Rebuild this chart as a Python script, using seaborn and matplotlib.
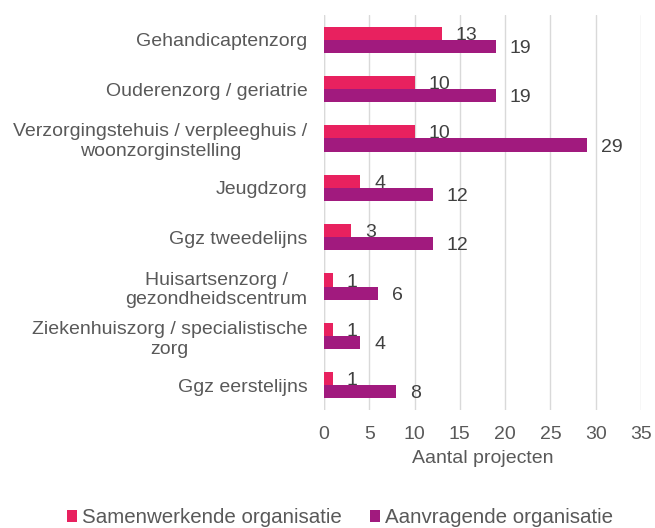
import matplotlib
matplotlib.use("Agg")
import matplotlib.pyplot as plt
import seaborn as sns
import pandas as pd

categories = [
    "Gehandicaptenzorg",
    "Ouderenzorg / geriatrie",
    "Verzorgingstehuis / verpleeghuis /\nwoonzorginstelling",
    "Jeugdzorg",
    "Ggz tweedelijns",
    "Huisartsenzorg /\ngezondheidscentrum",
    "Ziekenhuiszorg / specialistische\nzorg",
    "Ggz eerstelijns",
]
samenwerkend = [13, 10, 10, 4, 3, 1, 1, 1]
aanvragend = [19, 19, 29, 12, 12, 6, 4, 8]
series_names = ["Samenwerkende organisatie", "Aanvragende organisatie"]
x_ticks = [0, 5, 10, 15, 20, 25, 30, 35]

df = pd.DataFrame({
    "cat": categories * 2,
    "val": samenwerkend + aanvragend,
    "series": [series_names[0]] * len(categories) + [series_names[1]] * len(categories),
})

sns.set_theme(style="white")
plt.rcParams["font.family"] = ["Liberation Sans", "DejaVu Sans"]
text_color = "#595959"
fs = 14

fig = plt.figure(figsize=(6.55, 5.28), dpi=100)
ax = fig.add_axes([0.4947, 0.2235, 0.4839, 0.7481])

palette = {series_names[0]: "#E8215F", series_names[1]: "#A11A7E"}
sns.barplot(data=df, y="cat", x="val", hue="series", orient="h",
            palette=palette, width=0.53, ax=ax, saturation=1,
            edgecolor="none", linewidth=0, legend=True)

for cont in ax.containers:
    anns = ax.bar_label(cont, labels=[f"{int(v)}" for v in cont.datavalues],
                        padding=10, fontsize=fs, color="#404040")
    for a in anns:
        a.xyann = (10, -1.5)

ax.set_xlim(0, 35)
ax.set_xticks(x_ticks)
ax.set_xticklabels([str(t) for t in x_ticks], fontsize=fs, color=text_color)
ax.tick_params(axis="y", labelsize=fs, colors=text_color, length=0, pad=12)
ax.tick_params(axis="x", length=0, pad=11.5)
for lbl in ax.get_yticklabels():
    lbl.set_multialignment("center")

ax.xaxis.grid(True, color="#D9D9D9", linewidth=1)
ax.yaxis.grid(False)
ax.set_axisbelow(True)
for s in ax.spines.values():
    s.set_visible(False)
ax.axvline(0, color="#D9D9D9", linewidth=1, zorder=0)

ax.set_xlabel("Aantal projecten", fontsize=fs, color=text_color, labelpad=5)
ax.set_ylabel("")

leg = ax.legend(loc="center", bbox_to_anchor=(0.519, 0.019), bbox_transform=fig.transFigure,
                ncol=2, frameon=False, fontsize=14.8, handlelength=0.5, handleheight=0.5,
                handletextpad=0.25, columnspacing=1.35, borderpad=0)
for t in leg.get_texts():
    t.set_color(text_color)

fig.savefig("out.png", dpi=100)
